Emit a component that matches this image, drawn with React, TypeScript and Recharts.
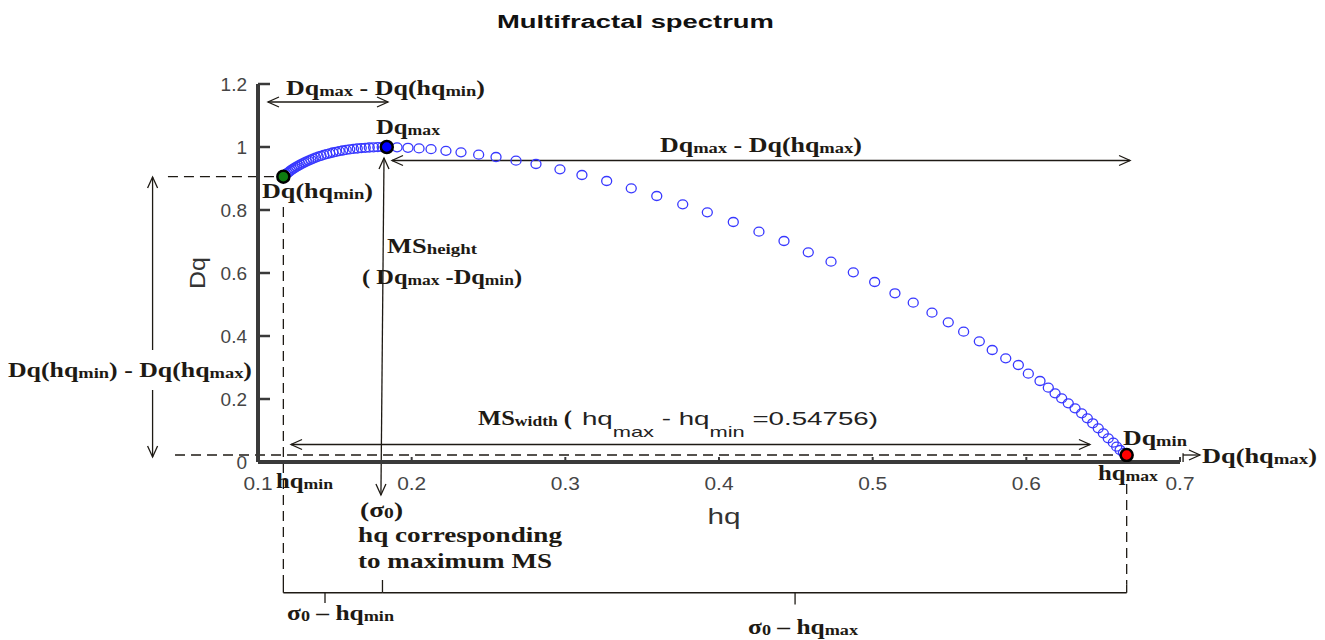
import React from "react";
import { ScatterChart, Scatter, XAxis, YAxis, ReferenceLine, ReferenceDot } from "recharts";

// multifractal spectrum points (hq, Dq)
const hqValues = [
  0.1165, 0.1172, 0.1182, 0.1192, 0.1202, 0.1211, 0.1221, 0.1231, 0.1241, 0.1252,
  0.1264, 0.1275, 0.1288, 0.1301, 0.1314, 0.1329, 0.1344, 0.1359, 0.1375, 0.1392,
  0.141, 0.1428, 0.1447, 0.1467, 0.1487, 0.1508, 0.1529, 0.1551, 0.1574, 0.1597,
  0.1621, 0.1646, 0.1672, 0.1698, 0.1724, 0.1752, 0.178, 0.1808, 0.1838,
  0.1905, 0.1976, 0.2048, 0.2126, 0.2223, 0.2321, 0.2436, 0.2549, 0.2679, 0.2809,
  0.2965, 0.3108, 0.3269, 0.3429, 0.3595, 0.3764, 0.3924, 0.4093, 0.426, 0.4423,
  0.4581, 0.4729, 0.4874, 0.5013, 0.5145, 0.5264, 0.5386, 0.5492, 0.5592, 0.5694,
  0.5778, 0.5866, 0.5948, 0.6013, 0.6089, 0.6143, 0.6187, 0.623, 0.6273, 0.6317,
  0.636, 0.6397, 0.6432, 0.6468, 0.6501, 0.6533, 0.6566, 0.6588, 0.661, 0.6632, 0.6653,
];
const dqValues = [
  0.9057, 0.9095, 0.9137, 0.9175, 0.9213, 0.9248, 0.9283, 0.9314, 0.9346, 0.9378,
  0.941, 0.9441, 0.9473, 0.9505, 0.9537, 0.9568, 0.96, 0.9632, 0.9663, 0.9692,
  0.9721, 0.9749, 0.9775, 0.98, 0.9825, 0.9848, 0.987, 0.9889, 0.9908, 0.9924,
  0.994, 0.9952, 0.9965, 0.9975, 0.9984, 0.999, 0.9994, 0.9997, 1.0,
  0.999, 0.9975, 0.9956, 0.993, 0.9879, 0.9832, 0.9756, 0.9683, 0.9565, 0.946,
  0.9292, 0.9111, 0.8921, 0.8689, 0.8444, 0.8181, 0.7927, 0.7619, 0.7311, 0.7016,
  0.6657, 0.6359, 0.6022, 0.5714, 0.5356, 0.5057, 0.474, 0.4435, 0.4137, 0.3832,
  0.3556, 0.3292, 0.3079, 0.2803, 0.2571, 0.2359, 0.2181, 0.2022, 0.1863, 0.1705,
  0.1546, 0.1387, 0.1229, 0.107, 0.0911, 0.0752, 0.0613, 0.0486, 0.0381, 0.0292, 0.0222,
];

const hqMin = 0.1165;
const dqAtHqMin = 0.9057;
const sigma0 = 0.1838;
const dqMax = 1.0;
const hqMax = 0.6653;
const dqMin = 0.0222;

const xTicks = [0.1, 0.2, 0.3, 0.4, 0.5, 0.6, 0.7];
const yTicks = [0, 0.2, 0.4, 0.6, 0.8, 1, 1.2];

const spectrum = hqValues.map((hq, i) => ({ hq, dq: dqValues[i] }));

const SERIF = "'Liberation Serif', 'Times New Roman', serif";
const SANS = "'Liberation Sans', Arial, sans-serif";
const INK = "#1e1a14";
const AXIS = "#3a3a3a";

type Pt = [number, number];
type Seg = { from: Pt; to: Pt; heads?: ("start" | "end")[] };

// annotation arrows and guide lines, in data units
const arrows: Seg[] = [
  { from: [0.1065, 1.1429], to: [0.1846, 1.1429], heads: ["start", "end"] },
  { from: [0.1872, 0.9571], to: [0.6675, 0.9571], heads: ["start", "end"] },
  { from: [0.182, 0.9651], to: [0.18, -0.1048], heads: ["start", "end"] },
  { from: [0.0314, 0.9048], to: [0.0314, 0.3556], heads: ["start"] },
  { from: [0.0314, 0.2286], to: [0.0314, 0.0159], heads: ["end"] },
  { from: [0.1215, 0.0556], to: [0.6414, 0.0556], heads: ["start", "end"] },
  { from: [0.702, dqMin], to: [0.713, dqMin], heads: ["end"] },
  { from: [0.702, 0], to: [0.702, 0.028] },
];

const dashed: Seg[] = [
  { from: [0.0414, dqAtHqMin], to: [hqMin, dqAtHqMin] },
  { from: [hqMin, 0.8095], to: [hqMin, -0.387] },
  { from: [0.046, dqMin], to: [hqMax, dqMin] },
  { from: [hqMax, -0.07], to: [hqMax, -0.39] },
];

const braces: Seg[] = [
  { from: [hqMin, -0.387], to: [hqMin, -0.415] },
  { from: [hqMin, -0.415], to: [0.181, -0.415] },
  { from: [0.1436, -0.415], to: [0.1436, -0.4476] },
  { from: [0.181, -0.3746], to: [0.181, -0.415] },
  { from: [0.181, -0.415], to: [hqMax, -0.415] },
  { from: [0.4495, -0.415], to: [0.4495, -0.452] },
  { from: [hqMax, -0.39], to: [hqMax, -0.415] },
];

type Note = {
  at: Pt;
  text: string;
  w: number;
  family?: string;
  size?: number;
  subSize?: number;
  subDy?: number;
  weight?: string;
  fill?: string;
  anchor?: "start" | "middle" | "end";
  rotate?: number;
};

const notes: Note[] = [
  { at: [0.1182, 1.1651], text: "Dq_{max} - Dq(hq_{min})", w: 199 },
  { at: [0.1768, 1.0413], text: "Dq_{max}", w: 64 },
  { at: [0.3616, 0.9851], text: "Dq_{max} - Dq(hq_{max})", w: 202 },
  { at: [0.1026, 0.8381], text: "Dq(hq_{min})", w: 111 },
  { at: [0.184, 0.6635], text: "MS_{height}", w: 90 },
  { at: [0.1677, 0.5651], text: "( Dq_{max} -Dq_{min})", w: 160 },
  { at: [-0.0627, 0.2698], text: "Dq(hq_{min}) - Dq(hq_{max})", w: 244 },
  { at: [0.6629, 0.054], text: "Dq_{min}", w: 64 },
  { at: [0.6466, -0.0571], text: "hq_{max}", w: 60 },
  { at: [0.7143, -0.0032], text: "Dq(hq_{max})", w: 115 },
  { at: [0.1117, -0.0825], text: "hq_{min}", w: 57 },
  { at: [0.1664, -0.1746], text: "(σ_{0})", w: 43 },
  { at: [0.1651, -0.254], text: "hq corresponding", w: 204 },
  { at: [0.1651, -0.3365], text: "to maximum MS", w: 194 },
  { at: [0.2432, 0.1175], text: "MS_{width} (", w: 94 },
  { at: [0.1189, -0.5016], text: "σ_{0} – hq_{min}", w: 107 },
  { at: [0.4189, -0.546], text: "σ_{0} – hq_{max}", w: 110 },
  {
    at: [0.3108, 0.1175], text: "hq_{max} - hq_{min} =0.54756)", w: 296,
    family: SANS, size: 19, subSize: 15, subDy: 12, weight: "normal", fill: "#222",
  },
  {
    at: [0.2555, 1.3778], text: "Multifractal spectrum", w: 277,
    family: SANS, size: 18, weight: "bold", fill: "#111",
  },
  {
    at: [0.0655, 0.6], text: "Dq", w: 32, family: SANS, size: 22, weight: "normal",
    fill: "#333", anchor: "middle", rotate: -90,
  },
  {
    at: [0.4033, -0.1968], text: "hq", w: 33, family: SANS, size: 22, weight: "normal",
    fill: "#333", anchor: "middle",
  },
];

function splitSubs(text: string) {
  const out: { t: string; sub: boolean }[] = [];
  const re = /_\{([^}]*)\}/g;
  let last = 0;
  let m: RegExpExecArray | null;
  while ((m = re.exec(text))) {
    if (m.index > last) out.push({ t: text.slice(last, m.index), sub: false });
    out.push({ t: m[1], sub: true });
    last = re.lastIndex;
  }
  if (last < text.length) out.push({ t: text.slice(last), sub: false });
  return out;
}

function RichText({ cx, cy, note }: { cx: number; cy: number; note: Note }) {
  const {
    text, w, family = SERIF, size = 21, subSize = 15, subDy = 1,
    weight = "bold", fill = INK, anchor = "start", rotate = 0,
  } = note;
  let shifted = false;
  const spans = splitSubs(text).map((p, i) => {
    let dy = 0;
    if (p.sub && !shifted) {
      dy = subDy;
      shifted = true;
    } else if (!p.sub && shifted) {
      dy = -subDy;
      shifted = false;
    }
    return (
      <tspan key={i} dy={dy} fontSize={p.sub ? subSize : size}>
        {p.t}
      </tspan>
    );
  });
  return (
    <text
      x={cx}
      y={cy}
      textLength={w}
      lengthAdjust="spacingAndGlyphs"
      fontFamily={family}
      fontWeight={weight}
      fontSize={size}
      fill={fill}
      textAnchor={anchor}
      transform={rotate ? `rotate(${rotate} ${cx} ${cy})` : undefined}
      style={{ whiteSpace: "pre" }}
    >
      {spans}
    </text>
  );
}

const headAngle = (a: Pt, b: Pt) =>
  a[1] === b[1] ? (b[0] > a[0] ? 0 : 180) : b[1] < a[1] ? 90 : -90;

function YTick(props: any) {
  const { x, y, payload } = props;
  return (
    <g>
      <line x1={x} y1={y} x2={x + 12} y2={y} stroke={AXIS} strokeWidth={2.5} />
      <text x={x - 11} y={y + 6.5} textAnchor="end" fontSize={19} fontFamily={SANS} fill="#454545">
        {payload.value}
      </text>
    </g>
  );
}

function XTick(props: any) {
  const { x, y, payload } = props;
  return (
    <g>
      <line x1={x} y1={y} x2={x} y2={y - 5} stroke={AXIS} strokeWidth={2} />
      <text
        x={x}
        y={y + 28}
        textAnchor="middle"
        fontSize={19}
        fontFamily={SANS}
        fill="#454545"
        transform={`translate(${x} 0) scale(1.1 1) translate(${-x} 0)`}
      >
        {payload.value}
      </text>
    </g>
  );
}

const ring = (p: any) => (
  <ellipse cx={p.cx} cy={p.cy} rx={5} ry={4.5} fill="none" stroke="#3838ff" strokeWidth={1.3} />
);

const marker = (color: string) => (p: any) => (
  <circle cx={p.cx} cy={p.cy} r={6} fill={color} stroke="#000" strokeWidth={2.5} />
);

function line(s: Seg, key: string, dash?: string) {
  return (
    <ReferenceLine
      key={key}
      segment={[
        { x: s.from[0], y: s.from[1] },
        { x: s.to[0], y: s.to[1] },
      ]}
      stroke={INK}
      strokeWidth={1.3}
      strokeDasharray={dash}
      ifOverflow="visible"
    />
  );
}

export default function App() {
  const heads: { at: Pt; angle: number }[] = [];
  arrows.forEach((s) => {
    (s.heads || []).forEach((h) => {
      if (h === "end") heads.push({ at: s.to, angle: headAngle(s.from, s.to) });
      else heads.push({ at: s.from, angle: headAngle(s.to, s.from) });
    });
  });

  return (
    <div style={{ position: "absolute", left: 0, top: 0, width: 1325, height: 640, background: "#fff" }}>
      <ScatterChart width={1325} height={640} margin={{ top: 84, right: 145, bottom: 138, left: 198 }}>
        <XAxis
          type="number"
          dataKey="hq"
          domain={[0.1, 0.7]}
          ticks={xTicks}
          interval={0}
          allowDataOverflow
          height={40}
          tickSize={0}
          tickMargin={0}
          tickLine={false}
          axisLine={{ stroke: AXIS, strokeWidth: 4 }}
          tick={(p: any) => <XTick {...p} />}
        />
        <YAxis
          type="number"
          dataKey="dq"
          domain={[0, 1.2]}
          ticks={yTicks}
          interval={0}
          allowDataOverflow
          width={60}
          tickSize={0}
          tickMargin={0}
          tickLine={false}
          axisLine={{ stroke: AXIS, strokeWidth: 4 }}
          tick={(p: any) => <YTick {...p} />}
        />

        {dashed.map((s, i) => line(s, `d${i}`, "10 6"))}
        {arrows.map((s, i) => line(s, `a${i}`))}
        {braces.map((s, i) => line(s, `b${i}`))}
        {heads.map((h, i) => (
          <ReferenceDot
            key={`h${i}`}
            x={h.at[0]}
            y={h.at[1]}
            r={0}
            ifOverflow="visible"
            shape={(p: any) => (
              <path
                transform={`translate(${p.cx},${p.cy}) rotate(${h.angle})`}
                d="M-11,-5L0,0L-11,5"
                fill="none"
                stroke={INK}
                strokeWidth={1.3}
              />
            )}
          />
        ))}

        <Scatter data={spectrum} shape={ring} isAnimationActive={false} />
        <Scatter data={[{ hq: hqMin, dq: dqAtHqMin }]} shape={marker("#0f7d10")} isAnimationActive={false} />
        <Scatter data={[{ hq: sigma0, dq: dqMax }]} shape={marker("#0000ff")} isAnimationActive={false} />
        <Scatter data={[{ hq: hqMax, dq: dqMin }]} shape={marker("#ff0000")} isAnimationActive={false} />

        {notes.map((n, i) => (
          <ReferenceDot
            key={`n${i}`}
            x={n.at[0]}
            y={n.at[1]}
            r={0}
            ifOverflow="visible"
            shape={(p: any) => <RichText cx={p.cx} cy={p.cy} note={n} />}
          />
        ))}
      </ScatterChart>
    </div>
  );
}
